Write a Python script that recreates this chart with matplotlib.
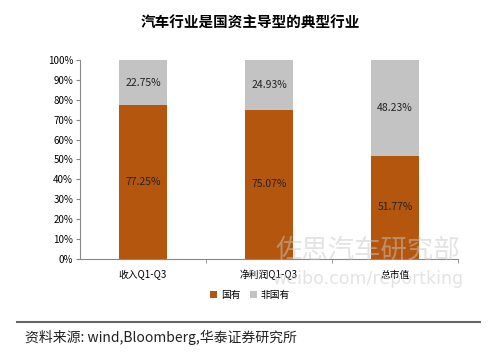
import matplotlib
matplotlib.use("Agg")
import numpy as np
from matplotlib import pyplot as plt
from matplotlib.ticker import MultipleLocator, PercentFormatter

plt.rcParams['font.family'] = ['Noto Sans CJK SC', 'DejaVu Sans']

categories = ["收入Q1-Q3", "净利润Q1-Q3", "总市值"]
state_owned = [77.25, 75.07, 51.77]
non_state = [22.75, 24.93, 48.23]
series_names = ["国有", "非国有"]

brown = "#B5560E"
grey = "#C3C3C3"

fig = plt.figure(figsize=(5, 3.6), dpi=100)
ax = fig.add_axes([0.16, 0.281, 0.756, 0.552])

x = np.arange(len(categories))
b1 = ax.bar(x, state_owned, width=0.38, color=brown, label=series_names[0])
b2 = ax.bar(x, non_state, width=0.38, bottom=state_owned, color=grey, label=series_names[1])

# data labels in the middle of each segment
for xi, v in zip(x, state_owned):
    ax.text(xi, v / 2, "%.2f%%" % v, ha="center", va="center", fontsize=7.5, color="#222222")
for xi, v, b in zip(x, non_state, state_owned):
    ax.text(xi, b + v / 2, "%.2f%%" % v, ha="center", va="center", fontsize=7.5, color="#222222")

ax.set_xlim(-0.5, 2.5)
ax.set_ylim(0, 100)
ax.yaxis.set_major_locator(MultipleLocator(10))
ax.yaxis.set_major_formatter(PercentFormatter(decimals=0))
ax.set_xticks(x)
ax.set_xticklabels(categories)
ax.set_xticks([0.5, 1.5, 2.5], minor=True)
ax.tick_params(axis="x", which="major", length=0, labelsize=7, pad=8)
ax.tick_params(axis="x", which="minor", length=3, color="#888888")
ax.tick_params(axis="y", length=3, color="#888888", labelsize=7, pad=2)
for s in ["top", "right"]:
    ax.spines[s].set_visible(False)
ax.spines["left"].set_color("#888888")
ax.spines["bottom"].set_color("#888888")

fig.legend(handles=[b1, b2], loc="center", bbox_to_anchor=(0.5, 0.18), ncol=2,
           frameon=False, fontsize=7, handlelength=0.7, handleheight=0.7,
           handletextpad=0.4, columnspacing=1.0)

fig.text(0.5, 0.938, "汽车行业是国资主导型的典型行业", ha="center", va="center",
         fontsize=10.5, fontweight="bold")

# watermark
fig.text(0.735, 0.305, "佐思汽车研究部", ha="center", va="center", fontsize=19,
         color="#c8c8c8", alpha=0.5)
fig.text(0.735, 0.225, "weibo.com/reportking", ha="center", va="center", fontsize=12.5,
         color="#c8c8c8", alpha=0.5, family="DejaVu Sans")

fig.add_artist(plt.Line2D([0.034, 0.96], [0.106, 0.106], color="#666666", lw=1.5))
fig.text(0.05, 0.063, "资料来源: wind,Bloomberg,华泰证券研究所", ha="left", va="center",
         fontsize=10, style="italic", color="#222222")

fig.savefig("out.png", dpi=100)
